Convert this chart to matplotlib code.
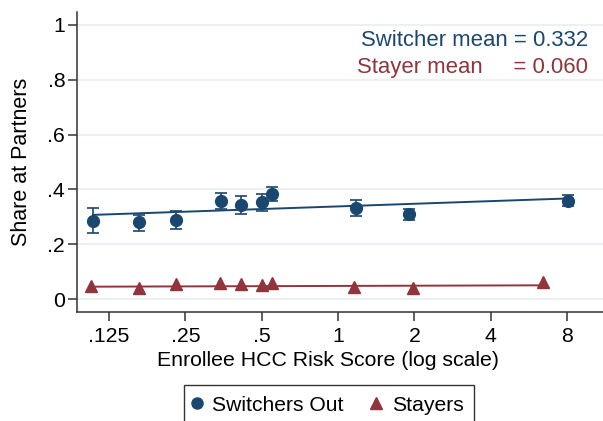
import numpy as np
import matplotlib
matplotlib.use("Agg")
import matplotlib.pyplot as plt
from matplotlib.lines import Line2D

# ---- data ----
sw_x = [0.108, 0.164, 0.229, 0.345, 0.414, 0.500, 0.548, 1.178, 1.907, 8.10]
sw_y = [0.286, 0.280, 0.288, 0.358, 0.343, 0.353, 0.383, 0.333, 0.309, 0.359]
sw_lo = [0.242, 0.248, 0.254, 0.328, 0.310, 0.322, 0.359, 0.304, 0.287, 0.339]
sw_hi = [0.331, 0.307, 0.322, 0.386, 0.376, 0.382, 0.410, 0.361, 0.328, 0.380]

st_x = [0.106, 0.164, 0.229, 0.342, 0.414, 0.501, 0.549, 1.157, 1.977, 6.44]
st_y = [0.046, 0.042, 0.054, 0.060, 0.054, 0.052, 0.058, 0.044, 0.039, 0.061]

# fitted lines (values at the ends)
sw_fit_y = [0.307, 0.367]
st_fit_y = [0.045, 0.050]

x_ticks = [0.125, 0.25, 0.5, 1, 2, 4, 8]
x_tick_labels = [".125", ".25", ".5", "1", "2", "4", "8"]
y_ticks = [0, 0.2, 0.4, 0.6, 0.8, 1.0]
y_tick_labels = ["0", ".2", ".4", ".6", ".8", "1"]

switcher_mean = 0.332
stayer_mean = 0.060

NAVY = "#1a476f"
MAROON = "#90353b"
GRID = "#e8eef1"
AXC = "#333333"

plt.rcParams['font.family'] = ['Liberation Sans', 'DejaVu Sans']

fig = plt.figure(figsize=(6.03, 4.21), dpi=100)
ax = fig.add_axes([77/603, 1-312/421, 526/603, 300/421])

ax.set_xscale('log', base=2)
ax.set_xlim(2**-3.421, 2**3.473)
ax.set_ylim(-0.0474, 1.0474)

for yt in y_ticks:
    ax.axhline(yt, color=GRID, lw=1.2, zorder=0)

# fit lines: straight in log-x, spanning the range of each series
def fit_line(xs, ends):
    lx = np.log2(np.array(xs))
    xx = np.linspace(lx.min(), lx.max(), 50)
    yy = np.interp(xx, [lx.min(), lx.max()], ends)
    return 2**xx, yy

fx, fy = fit_line(sw_x, sw_fit_y)
ax.plot(fx, fy, color=NAVY, lw=1.4, zorder=2)
fx2, fy2 = fit_line(st_x, st_fit_y)
ax.plot(fx2, fy2, color=MAROON, lw=1.4, zorder=2)

sw_y_a = np.array(sw_y)
yerr = [sw_y_a - np.array(sw_lo), np.array(sw_hi) - sw_y_a]
ax.errorbar(sw_x, sw_y, yerr=yerr, fmt='none', ecolor=NAVY, elinewidth=1.2,
            capsize=4, capthick=1.2, zorder=3)
ax.plot(sw_x, sw_y, 'o', color=NAVY, ms=8.5, mec=NAVY, zorder=4)
ax.plot(st_x, st_y, '^', color=MAROON, ms=9, mec=MAROON, zorder=4)

ax.set_xticks(x_ticks)
ax.set_xticklabels(x_tick_labels)
ax.xaxis.set_minor_locator(matplotlib.ticker.NullLocator())
ax.set_yticks(y_ticks)
ax.set_yticklabels(y_tick_labels)

for s in ['top', 'right']:
    ax.spines[s].set_visible(False)
for s in ['left', 'bottom']:
    ax.spines[s].set_color(AXC)
    ax.spines[s].set_linewidth(1.1)
ax.tick_params(axis='both', length=6.5, width=1.1, color=AXC, labelsize=15.3)
ax.tick_params(axis='x', pad=4)
ax.tick_params(axis='y', pad=2)

ax.set_xlabel("Enrollee HCC Risk Score (log scale)", fontsize=15.3)
ax.xaxis.set_label_coords((328-77)/526, (312-360)/300, transform=ax.transAxes)
ax.xaxis.label.set_va('center')
ax.set_ylabel("Share at Partners", fontsize=15.5)
ax.yaxis.set_label_coords((21.7-77)/526, 0.5)
ax.yaxis.label.set_va('center')

fig.text(588/603, 1-40/421, f"Switcher mean = {switcher_mean:.3f}", color=NAVY,
         fontsize=15.9, ha='right', va='center')
fig.text(588/603, 1-67/421, f"Stayer mean     = {stayer_mean:.3f}", color=MAROON,
         fontsize=15.9, ha='right', va='center')

handles = [Line2D([], [], marker='o', ls='none', color=NAVY, ms=8),
           Line2D([], [], marker='^', ls='none', color=MAROON, ms=9)]
leg = fig.legend(handles, ["Switchers Out", "Stayers"], loc='upper center',
                 bbox_to_anchor=(329/603, 1-385/421), ncol=2, fontsize=15.2,
                 frameon=True, fancybox=False, edgecolor='black',
                 handlelength=0.2, handletextpad=0.64, columnspacing=1.43,
                 borderpad=0.5, borderaxespad=0)
leg.get_frame().set_linewidth(1.0)

fig.savefig("out.png", dpi=100)
